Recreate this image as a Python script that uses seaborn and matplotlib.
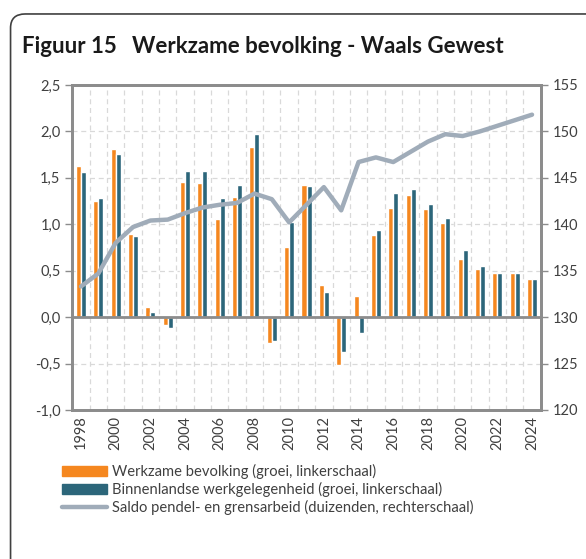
import numpy as np
import pandas as pd
import seaborn as sns
import matplotlib.pyplot as plt
from matplotlib.patches import FancyBboxPatch
from matplotlib.ticker import FuncFormatter, MultipleLocator

years = list(range(1998, 2025))
werkzame = [1.63, 1.25, 1.81, 0.90, 0.11, -0.09, 1.45, 1.44, 1.06, 1.29,
            1.83, -0.28, 0.75, 1.42, 0.35, -0.52, 0.23, 0.88, 1.17, 1.31,
            1.16, 1.01, 0.63, 0.52, 0.48, 0.47, 0.41]
binnenlandse = [1.56, 1.28, 1.76, 0.87, 0.06, -0.12, 1.57, 1.57, 1.28, 1.42,
                1.97, -0.26, 1.02, 1.41, 0.27, -0.38, -0.17, 0.94, 1.34, 1.38,
                1.22, 1.07, 0.72, 0.55, 0.48, 0.47, 0.41]
saldo = [133.3, 134.7, 138.0, 139.7, 140.4, 140.5, 141.2, 141.8, 142.1, 142.3,
         143.3, 142.7, 140.2, 142.1, 144.0, 141.5, 146.7, 147.2, 146.7, 147.8,
         148.9, 149.7, 149.5, 150.0, 150.6, 151.2, 151.8]

lab_w = "Werkzame bevolking (groei, linkerschaal)"
lab_b = "Binnenlandse werkgelegenheid (groei, linkerschaal)"
lab_s = "Saldo pendel- en grensarbeid (duizenden, rechterschaal)"

orange = "#F5871F"
teal = "#2C667A"
grey_line = "#A0ACB9"
spine = "#8C8C8C"
txt = "#404040"

sns.set_style("white")
plt.rcParams['font.family'] = ['Lato', 'DejaVu Sans']

bars = pd.DataFrame({
    "jaar": [str(y) for y in years] * 2,
    "reeks": [lab_w] * len(years) + [lab_b] * len(years),
    "waarde": werkzame + binnenlandse,
})
line = pd.DataFrame({"pos": np.arange(len(years)), "saldo": saldo})

fig = plt.figure(figsize=(5.86, 5.59), dpi=100)
ax = fig.add_axes([0.1234, 0.2666, 0.7993, 0.5814])

sns.barplot(data=bars, x="jaar", y="waarde", hue="reeks",
            palette=[orange, teal], width=0.58, gap=0, saturation=1,
            ax=ax, legend=False, zorder=3)

ax2 = ax.twinx()
sns.lineplot(data=line, x="pos", y="saldo", color=grey_line, lw=3.2,
             ax=ax2, legend=False, zorder=4)

ax.set_xlim(-0.5, len(years) - 0.5)
ax.set_ylim(-1.0, 2.5)
ax2.set_ylim(120, 155)
ax.yaxis.set_major_locator(MultipleLocator(0.5))
ax.yaxis.set_major_formatter(FuncFormatter(lambda v, p: f"{v:.1f}".replace(".", ",")))
ax2.yaxis.set_major_locator(MultipleLocator(5))

ax.set_xticks(range(0, len(years), 2))
ax.set_xticklabels([str(y) for y in years[::2]], rotation=90)
ax.set_xticks(np.arange(0.5, len(years) - 1, 1), minor=True)
ax.grid(True, which="minor", axis="x", color="#D9D9D9", ls=(0, (4, 3)), lw=0.9)
ax.grid(True, which="major", axis="y", color="#D9D9D9", ls=(0, (4, 3)), lw=0.9)
ax.set_axisbelow(True)
ax.axhline(0, color=spine, lw=2, zorder=5)

ax.set_xlabel("")
ax.set_ylabel("")
ax2.set_xlabel("")
ax2.set_ylabel("")

for a in (ax, ax2):
    for s in a.spines.values():
        s.set_color(spine)
        s.set_linewidth(2)
ax.tick_params(axis="y", which="major", length=5, width=1, color=spine,
               labelsize=10.5, labelcolor=txt, direction="out", left=True)
ax.tick_params(axis="x", which="both", length=0, labelsize=10.5, labelcolor=txt, pad=4)
ax2.tick_params(axis="y", length=5, width=1, color=spine, labelsize=10.5,
                labelcolor=txt, direction="out", right=True)

fig.text(0.0375, 0.906, "Figuur 15", fontsize=16, fontweight="bold",
         color="#1a1a1a", va="baseline")
fig.text(0.225, 0.906, "Werkzame bevolking - Waals Gewest", fontsize=16,
         fontweight="bold", color="#1a1a1a", va="baseline")

box = FancyBboxPatch((0.018, -0.05), 1.2, 1.025,
                     boxstyle="round,pad=0,rounding_size=0.025",
                     transform=fig.transFigure, fill=False, ec="#404040", lw=1.2,
                     clip_on=False)
fig.patches.append(box)

handles = [plt.Rectangle((0, 0), 1, 1, color=orange),
           plt.Rectangle((0, 0), 1, 1, color=teal),
           plt.Line2D([0], [0], color=grey_line, lw=3.2)]
fig.legend(handles, [lab_w, lab_b, lab_s], loc="upper left",
           bbox_to_anchor=(0.093, 0.183), frameon=False, fontsize=10.6,
           handlelength=3.1, handleheight=0.6, handletextpad=0.3,
           labelspacing=0.2, labelcolor=txt, borderpad=0)

fig.savefig("out.png", dpi=100)
